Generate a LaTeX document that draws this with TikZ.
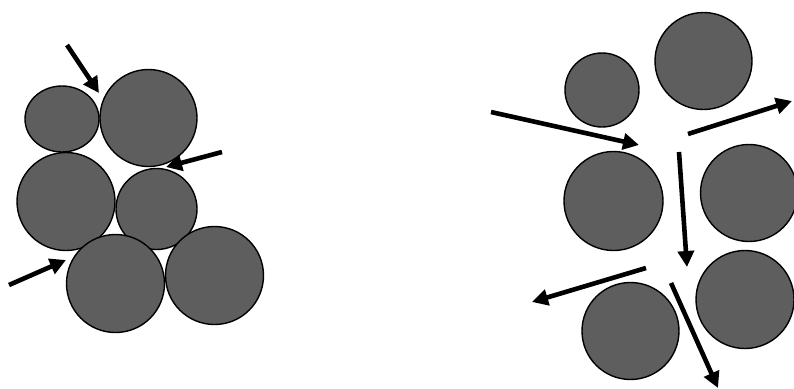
\documentclass[tikz,border=0pt]{standalone}
\usetikzlibrary{arrows.meta,shapes.geometric}
\begin{document}
\begin{tikzpicture}[x=1pt,y=-1pt,
  ball/.style={circle,draw=black,line width=1.4pt,fill=black!63,inner sep=0pt,minimum size=#1},
  push/.style={line width=4.6pt,-{Triangle[length=16pt,width=16pt]}}]
\clip (0,0) rectangle (794,388);
\fill[white] (0,0) rectangle (794,388);
% left cluster
\node[ellipse,draw=black,line width=1.4pt,fill=black!63,inner sep=0pt,minimum width=74pt,minimum height=66pt] (a) at (62,119) {};
\node[ball=97pt] (b) at (148.5,118) {};
\node[ball=98pt] (c) at (66,201.5) {};
\node[ball=81pt] (d) at (156.5,209) {};
\node[ball=98pt] (e) at (115.5,283.5) {};
\node[ball=98pt] (f) at (214.5,275.5) {};
% right cluster
\node[ball=74pt] (g) at (602,90) {};
\node[ball=97pt] (h) at (703.5,61) {};
\node[ball=99pt] (i) at (613.5,201) {};
\node[ball=97pt] (j) at (749,193) {};
\node[ball=98pt] (k) at (745,299.5) {};
\node[ball=97pt] (l) at (630.5,331) {};
% arrow end points
\coordinate (t1) at (67,45);   \coordinate (h1) at (99,93);
\coordinate (t2) at (222,152); \coordinate (h2) at (166,167);
\coordinate (t3) at (9,285);   \coordinate (h3) at (66,260);
\coordinate (t4) at (491,112); \coordinate (h4) at (639,145);
\coordinate (t5) at (688,134); \coordinate (h5) at (792,101);
\coordinate (t6) at (679,152); \coordinate (h6) at (687,267);
\coordinate (t7) at (646,268); \coordinate (h7) at (532,302);
\coordinate (t8) at (671,283); \coordinate (h8) at (718,388);
\draw[push] (t1) -- (h1);
\draw[push] (t2) -- (h2);
\draw[push] (t3) -- (h3);
\draw[push] (t4) -- (h4);
\draw[push] (t5) -- (h5);
\draw[push] (t6) -- (h6);
\draw[push] (t7) -- (h7);
\draw[push] (t8) -- (h8);
\end{tikzpicture}
\end{document}
